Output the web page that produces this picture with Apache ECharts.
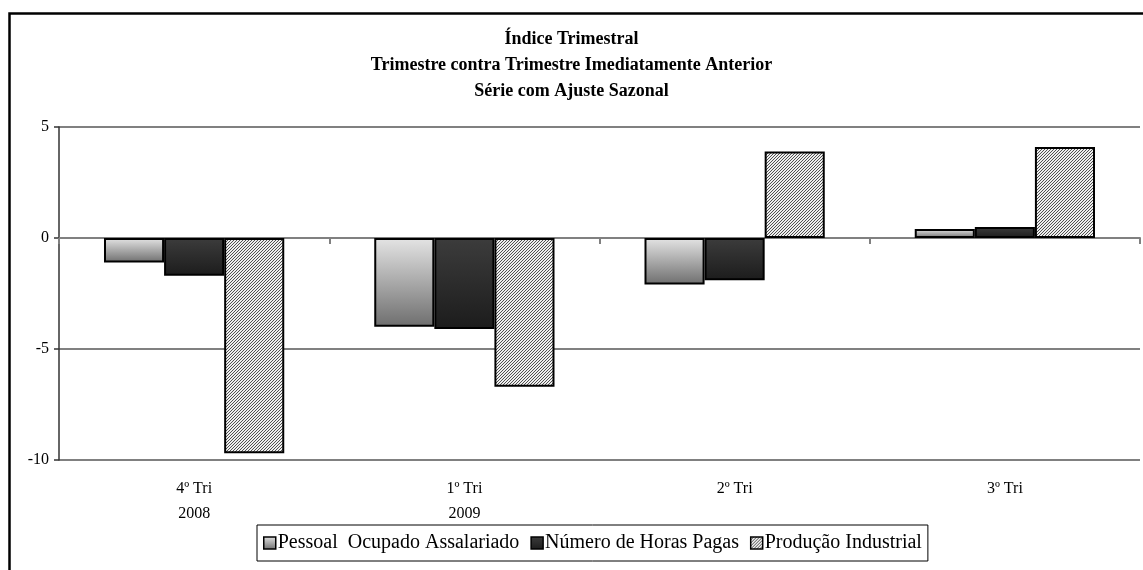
<!DOCTYPE html>
<html>
<head>
<meta charset="utf-8">
<script src="https://cdn.jsdelivr.net/npm/echarts@6/dist/echarts.min.js"></script>
<style>
  html, body { margin: 0; background: #fff; }
  #chart { width: 1143px; height: 570px; }
</style>
</head>
<body>
<div id="chart"></div>
<script>
// dados
const categories = ['4º Tri\n2008', '1º Tri\n2009', '2º Tri', '3º Tri'];
const seriesNames = ['Pessoal  Ocupado Assalariado', 'Número de Horas Pagas', 'Produção Industrial'];
const pessoal = [-1.1, -4.0, -2.1, 0.4];
const horas = [-1.7, -4.1, -1.9, 0.5];
const producao = [-9.7, -6.7, 3.9, 4.1];
const titleLines = ['Índice Trimestral', 'Trimestre contra Trimestre Imediatamente Anterior', 'Série com Ajuste Sazonal'];

const serif = 'Liberation Serif';

// textura hachurada fina (diagonal) da produção industrial
function hatch () {
  const n = 3;
  const c = document.createElement('canvas');
  c.width = n;
  c.height = n;
  const g = c.getContext('2d');
  const img = g.createImageData(n, n);
  for (let y = 0; y < n; y++) {
    for (let x = 0; x < n; x++) {
      const v = (x + y) % n === n - 1 ? 0x50 : 0xee;
      const i = (y * n + x) * 4;
      img.data[i] = img.data[i + 1] = img.data[i + 2] = v;
      img.data[i + 3] = 255;
    }
  }
  g.putImageData(img, 0, 0);
  return c;
}

function grad (top, bottom) {
  return new echarts.graphic.LinearGradient(0, 0, 0, 1, [
    { offset: 0, color: top },
    { offset: 1, color: bottom }
  ]);
}

const chart = echarts.init(document.getElementById('chart'));

const barBase = {
  type: 'bar',
  barGap: '0%',
  barCategoryGap: '33.3%',
  xAxisIndex: 0
};

chart.setOption({
  animation: false,
  graphic: [{
    type: 'rect',
    silent: true,
    shape: { x: 9.5, y: 13.5, width: 1170, height: 600 },
    style: { fill: 'none', stroke: '#000', lineWidth: 2.5 }
  }],
  title: {
    text: titleLines.join('\n'),
    left: 'center',
    top: 21,
    textStyle: {
      fontFamily: serif,
      fontWeight: 'bold',
      fontSize: 18,
      lineHeight: 26,
      color: '#000'
    }
  },
  legend: {
    left: 257,
    top: 525,
    itemWidth: 12,
    itemHeight: 12,
    itemGap: 11,
    padding: [8, 6, 8, 6],
    borderColor: '#000',
    borderWidth: 1,
    icon: 'rect',
    itemStyle: { borderColor: '#000', borderWidth: 1.5 },
    textStyle: { fontFamily: serif, fontSize: 20, color: '#000', padding: [0, 0, 0, -3] },
    data: seriesNames
  },
  grid: { left: 59, right: 3, top: 127, bottom: 110 },
  xAxis: [{
    type: 'category',
    data: categories,
    axisLine: { onZero: true, lineStyle: { color: '#808080', width: 2 } },
    axisTick: { show: true, length: 6, lineStyle: { color: '#808080', width: 2 } },
    axisLabel: { show: false }
  }, {
    type: 'category',
    data: categories,
    position: 'bottom',
    axisLine: { show: false, onZero: false },
    axisTick: { show: false },
    axisLabel: {
      fontFamily: serif,
      fontSize: 16,
      lineHeight: 25,
      color: '#000',
      margin: 16
    }
  }],
  yAxis: {
    type: 'value',
    min: -10,
    max: 5,
    interval: 5,
    axisLine: { show: true, lineStyle: { color: '#333', width: 1.5 } },
    axisTick: { show: true, length: 5, lineStyle: { color: '#333', width: 1.5 } },
    axisLabel: { fontFamily: serif, fontSize: 16, color: '#000', margin: 10 },
    splitLine: { lineStyle: { color: '#808080', width: 2 } }
  },
  series: [
    Object.assign({}, barBase, {
      name: seriesNames[0],
      data: pessoal,
      itemStyle: { color: grad('#e4e4e4', '#6e6e6e'), borderColor: '#000', borderWidth: 2 }
    }),
    Object.assign({}, barBase, {
      name: seriesNames[1],
      data: horas,
      itemStyle: { color: grad('#3c3c3c', '#1c1c1c'), borderColor: '#000', borderWidth: 2 }
    }),
    Object.assign({}, barBase, {
      name: seriesNames[2],
      data: producao,
      itemStyle: { color: { image: hatch(), repeat: 'repeat' }, borderColor: '#000', borderWidth: 2 }
    })
  ]
});
</script>
</body>
</html>
